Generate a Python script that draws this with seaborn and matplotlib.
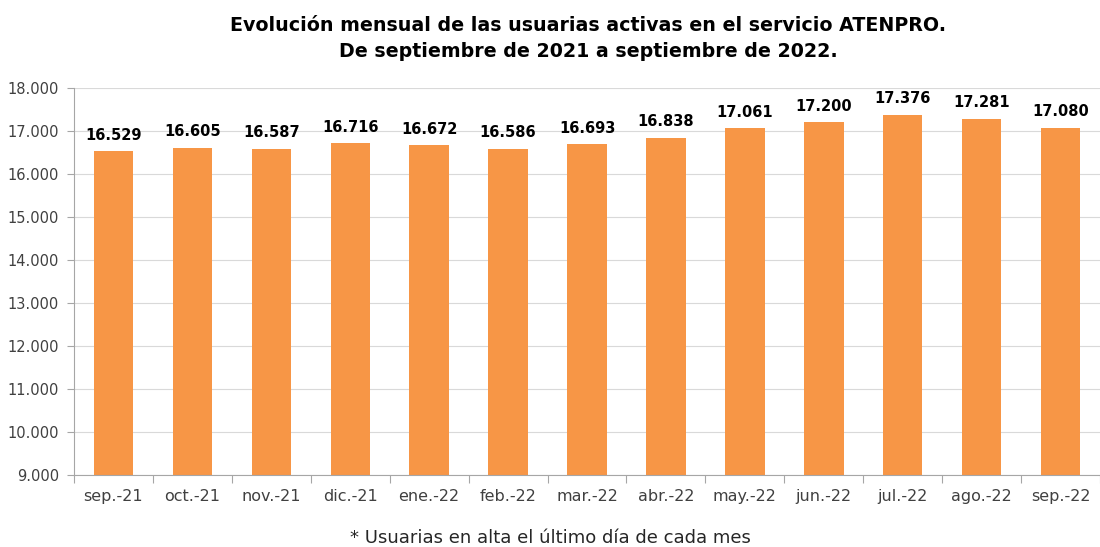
import matplotlib
matplotlib.use("Agg")
import matplotlib.pyplot as plt
import seaborn as sns
import pandas as pd
import numpy as np
from matplotlib.ticker import FixedLocator, FuncFormatter

months = ["sep.-21", "oct.-21", "nov.-21", "dic.-21", "ene.-22", "feb.-22", "mar.-22",
          "abr.-22", "may.-22", "jun.-22", "jul.-22", "ago.-22", "sep.-22"]
usuarias = [16529, 16605, 16587, 16716, 16672, 16586, 16693, 16838, 17061, 17200, 17376, 17281, 17080]
y_ticks = [9000, 10000, 11000, 12000, 13000, 14000, 15000, 16000, 17000, 18000]

df = pd.DataFrame({"mes": months, "usuarias": usuarias})

sns.set_theme(style="white")
plt.rcParams["font.family"] = ["DejaVu Sans"]

fig = plt.figure(figsize=(11, 5.47), dpi=100)
ax = fig.add_axes([0.0673, 0.1316, 0.9327, 0.7074])

sns.barplot(data=df, x="mes", y="usuarias", color="#F79646", width=0.5, ax=ax,
            saturation=1, edgecolor="none")

def fmt(v):
    return f"{int(v):,}".replace(",", ".")

ax.set_ylim(9000, 18000)
ax.set_xlim(-0.5, len(months) - 0.5)
ax.set_yticks(y_ticks)
ax.yaxis.set_major_formatter(FuncFormatter(lambda v, p: fmt(v)))
ax.yaxis.grid(True, color="#d9d9d9", linewidth=0.8)
ax.set_axisbelow(True)

for i, v in enumerate(usuarias):
    ax.text(i, v + 200, fmt(v), ha="center", va="bottom", fontsize=10.5, fontweight="bold", color="black")

ax.set_xlabel("")
ax.set_ylabel("")
for s in ["top", "right"]:
    ax.spines[s].set_visible(False)
for s in ["left", "bottom"]:
    ax.spines[s].set_color("#a6a6a6")
    ax.spines[s].set_linewidth(0.8)

ax.tick_params(axis="y", which="major", left=True, length=5, width=0.8, color="#a6a6a6",
               labelsize=10.5, labelcolor="#404040", pad=6)
ax.tick_params(axis="x", which="major", bottom=False, labelsize=11.5, labelcolor="#404040", pad=4)
ax.xaxis.set_minor_locator(FixedLocator(np.arange(-0.5, len(months), 1.0)))
ax.tick_params(axis="x", which="minor", bottom=True, length=6, width=0.8, color="#a6a6a6")

fig.text(0.535, 0.93, "Evolución mensual de las usuarias activas en el servicio ATENPRO.\nDe septiembre de 2021 a septiembre de 2022.",
         ha="center", va="center", fontsize=13.7, fontweight="bold", color="black", linespacing=1.45)
fig.text(0.5, 0.0, "* Usuarias en alta el último día de cada mes", ha="center", va="bottom",
         fontsize=13, color="#262626")

fig.savefig("out.png", dpi=100)
